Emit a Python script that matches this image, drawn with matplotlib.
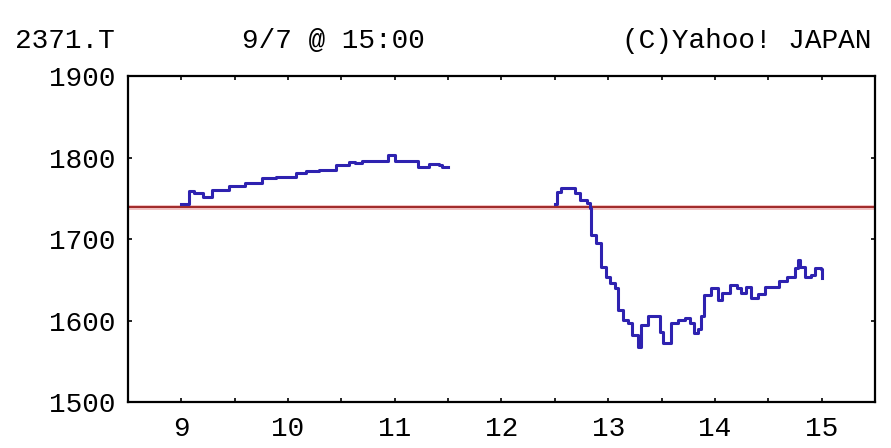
import matplotlib
matplotlib.use("Agg")
import matplotlib.pyplot as plt
from matplotlib.ticker import MultipleLocator

# morning session (hours, yen)
am_t = [9.0, 9.07, 9.12, 9.2, 9.29, 9.45, 9.6, 9.76, 9.89, 10.07, 10.17, 10.29,
        10.45, 10.57, 10.63, 10.69, 10.88, 10.94, 11.0, 11.16, 11.22, 11.32,
        11.41, 11.44, 11.5]
am_p = [1743, 1759, 1756, 1752, 1760, 1765, 1769, 1775, 1776, 1781, 1783, 1785,
        1791, 1795, 1793, 1796, 1796, 1803, 1796, 1796, 1789, 1792,
        1791, 1788, 1789]

# afternoon session
pm_t = [12.5, 12.52, 12.56, 12.65, 12.69, 12.74, 12.8, 12.83, 12.84, 12.89,
        12.93, 12.98, 13.02, 13.06, 13.09, 13.14, 13.19, 13.22, 13.28, 13.31,
        13.37, 13.45, 13.49, 13.51, 13.56, 13.59, 13.65, 13.72, 13.77, 13.8,
        13.84, 13.87, 13.9, 13.96, 14.03, 14.07, 14.14, 14.21, 14.24, 14.29,
        14.34, 14.4, 14.47, 14.56, 14.6, 14.68, 14.75, 14.78, 14.8, 14.84,
        14.9, 14.94, 14.99, 15.0]
pm_p = [1743, 1758, 1763, 1763, 1756, 1748, 1744, 1738, 1705, 1695,
        1666, 1654, 1646, 1640, 1613, 1601, 1597, 1582, 1568, 1594,
        1605, 1605, 1586, 1572, 1572, 1597, 1601, 1603, 1597, 1585,
        1589, 1605, 1631, 1640, 1625, 1634, 1644, 1640, 1634, 1641,
        1628, 1632, 1641, 1641, 1648, 1654, 1664, 1674, 1666, 1654,
        1656, 1664, 1663, 1652]

prev_close = 1739
x_labels = [9, 10, 11, 12, 13, 14, 15]
y_labels = [1500, 1600, 1700, 1800, 1900]

mono = "Liberation Mono"
fig = plt.figure(figsize=(8.91, 4.48), dpi=100)
ax = fig.add_axes([0.1437, 0.1027, 0.982 - 0.1437, 0.830 - 0.1027])

ax.axhline(prev_close, color="#f0c0c0", lw=3.5, zorder=1)
ax.axhline(prev_close, color="#a02828", lw=1.4, zorder=2)
ax.step(am_t, am_p, where="post", color="#2e22b0", lw=2.2, zorder=3)
ax.step(pm_t, pm_p, where="post", color="#2e22b0", lw=2.2, zorder=3)

ax.set_xlim(8.5, 15.5)
ax.set_ylim(1500, 1900)
ax.set_xticks(x_labels)
ax.xaxis.set_minor_locator(MultipleLocator(0.5))
ax.set_yticks(y_labels)
ax.tick_params(which="both", direction="in", top=True, right=True,
               length=3, width=1.2, labelsize=20)
ax.tick_params(axis="x", which="both", pad=10)
ax.tick_params(axis="y", pad=9)
for lab in ax.get_xticklabels() + ax.get_yticklabels():
    lab.set_fontfamily(mono)
for s in ax.spines.values():
    s.set_linewidth(1.6)

fig.text(0.017, 0.908, "2371.T", fontsize=20, family=mono, va="center")
fig.text(0.272, 0.908, "9/7 @ 15:00", fontsize=20, family=mono, va="center")
fig.text(0.978, 0.908, "(C)Yahoo! JAPAN", fontsize=20, family=mono,
         va="center", ha="right")

fig.savefig("out.png", dpi=100)
